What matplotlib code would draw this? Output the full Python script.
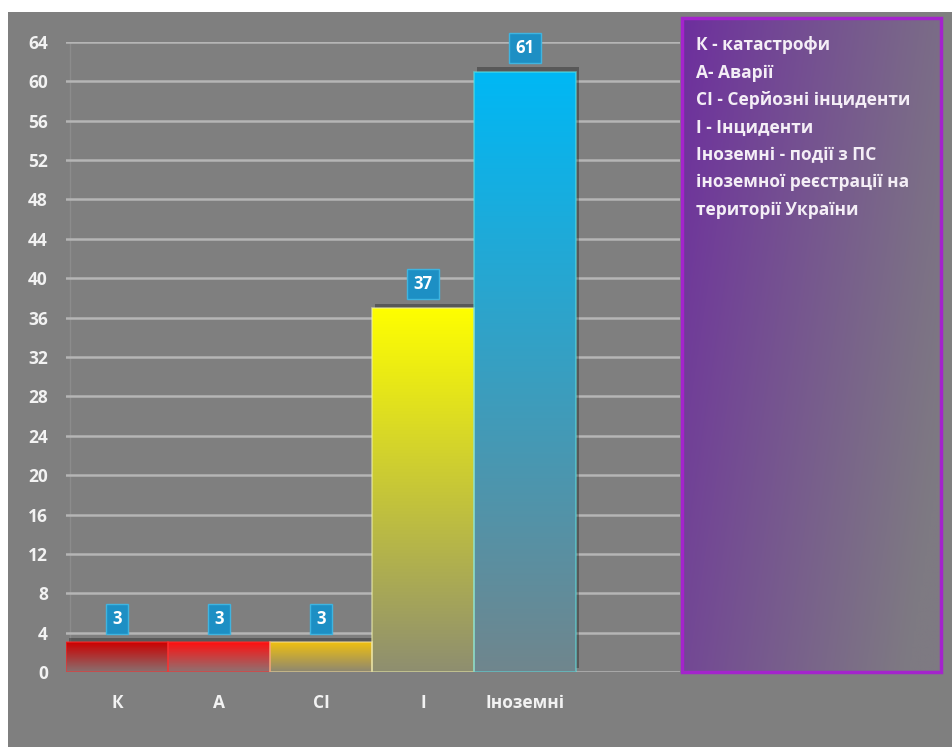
import numpy as np
import matplotlib
matplotlib.use("Agg")
import matplotlib.pyplot as plt
from matplotlib.patches import Rectangle
from matplotlib.colors import to_rgba
import matplotlib.patheffects as pe

categories = ["К", "А", "СІ", "І", "Іноземні"]
values = [3, 3, 3, 37, 61]
bar_colors = ["#cc0000", "#ff1010", "#f0c010", "#ffff00", "#00b8f5"]
edge_colors = ["#ff3030", "#ff3030", "#f5e0a0", "#f0f0b0", "#60e0e0"]
yticks = list(range(0, 65, 4))
legend_lines = [
    "К - катастрофи",
    "А- Аварії",
    "СІ - Серйозні інциденти",
    "І - Інциденти",
    "Іноземні - події з ПС",
    "іноземної реєстрації на",
    "території України",
]

plt.rcParams['font.family'] = ['Open Sans', 'DejaVu Sans']
W, H = 952, 747
fig = plt.figure(figsize=(W / 100, H / 100), dpi=100, facecolor="white")
GRAY = "#7f7f7f"
fig.patches.append(Rectangle((8 / W, 0), 1, 1 - 12 / H, transform=fig.transFigure,
                             facecolor=GRAY, edgecolor="none", zorder=-10))

ax = fig.add_axes([66 / W, 1 - 672 / H, (680 - 66) / W, (672 - 42) / H])
ax.set_facecolor("none")
for s in ax.spines.values():
    s.set_visible(False)
ax.set_yticks(yticks)
ax.set_yticklabels([str(t) for t in yticks], fontsize=12.5, fontweight="bold", color="#f2f2f2")
ax.set_xticks(range(len(categories)))
ax.set_xticklabels(categories, fontsize=12.5, fontweight="bold", color="#f2f2f2")
ax.tick_params(axis="y", length=0, pad=13)
ax.tick_params(axis="x", length=0, pad=16)
ax.grid(axis="y", color="#b5b5b5", linewidth=1.8, zorder=1)
ax.set_axisbelow(True)
ax.axvline(-0.46, color="#8c8c8c", linewidth=1, zorder=0.5)

bars = ax.bar(range(len(categories)), values, width=1.0, color=GRAY,
              edgecolor="none", zorder=2)
gray_rgb = np.array(to_rgba(GRAY))
for b, c, ec, v in zip(bars, bar_colors, edge_colors, values):
    b.set_path_effects([pe.SimplePatchShadow(offset=(2, 3), shadow_rgbFace="black", alpha=0.3),
                        pe.Normal()])
    top = np.array(to_rgba(c))
    n = 200
    t = np.linspace(0, 1, n)[:, None]
    bottom = 0.12 * top + 0.88 * gray_rgb
    grad = bottom * (1 - t) + top * t
    img = ax.imshow(grad[:, None, :], extent=[b.get_x(), b.get_x() + b.get_width(), 0, v],
                    origin="lower", aspect="auto", zorder=3, interpolation="bilinear")
    img.set_clip_path(b)
    ax.add_patch(Rectangle((b.get_x(), 0), b.get_width(), v, facecolor="none",
                           edgecolor=ec, linewidth=1.2, alpha=0.6, zorder=4))
    ax.text(b.get_x() + b.get_width() / 2, v + 2.4, str(v), ha="center", va="center",
            fontsize=12, fontweight="bold", color="white", zorder=6,
            bbox=dict(boxstyle="square,pad=0.38", facecolor="#1d8fc4", edgecolor="#3fb4e0",
                      linewidth=1))
ax.set_xlim(-0.5, 5.52)
ax.set_ylim(0, 64)

# legend box
lax = fig.add_axes([682 / W, 1 - 672 / H, (941 - 682) / W, (672 - 18) / H])
lax.set_xlim(0, 1)
lax.set_ylim(0, 1)
lax.axis("off")
nx, ny = 120, 200
xx, yy = np.meshgrid(np.linspace(0, 1, nx), np.linspace(1, 0, ny))
purple = np.array(to_rgba("#6d2e9e"))
endc = np.array(to_rgba("#7e7a82"))
tt = (np.clip(0.8 * xx + 0.3 * (1 - yy), 0, 1) ** 0.9)[..., None]
lg = purple * (1 - tt) + endc * tt
lax.imshow(lg, extent=[0, 1, 0, 1], aspect="auto", zorder=1)
lax.add_patch(Rectangle((0, 0), 1, 1, facecolor="none", edgecolor="#a424cc",
                        linewidth=2.5, zorder=2, clip_on=False))
y0 = 1 - 27 / 654
for i, line in enumerate(legend_lines):
    lax.text(14 / 259, y0 - i * 27.5 / 654, line, ha="left", va="center",
             fontsize=12.5, fontweight="bold", color="#f4eef6", zorder=3)

fig.savefig("out.png", dpi=100, facecolor="white")
